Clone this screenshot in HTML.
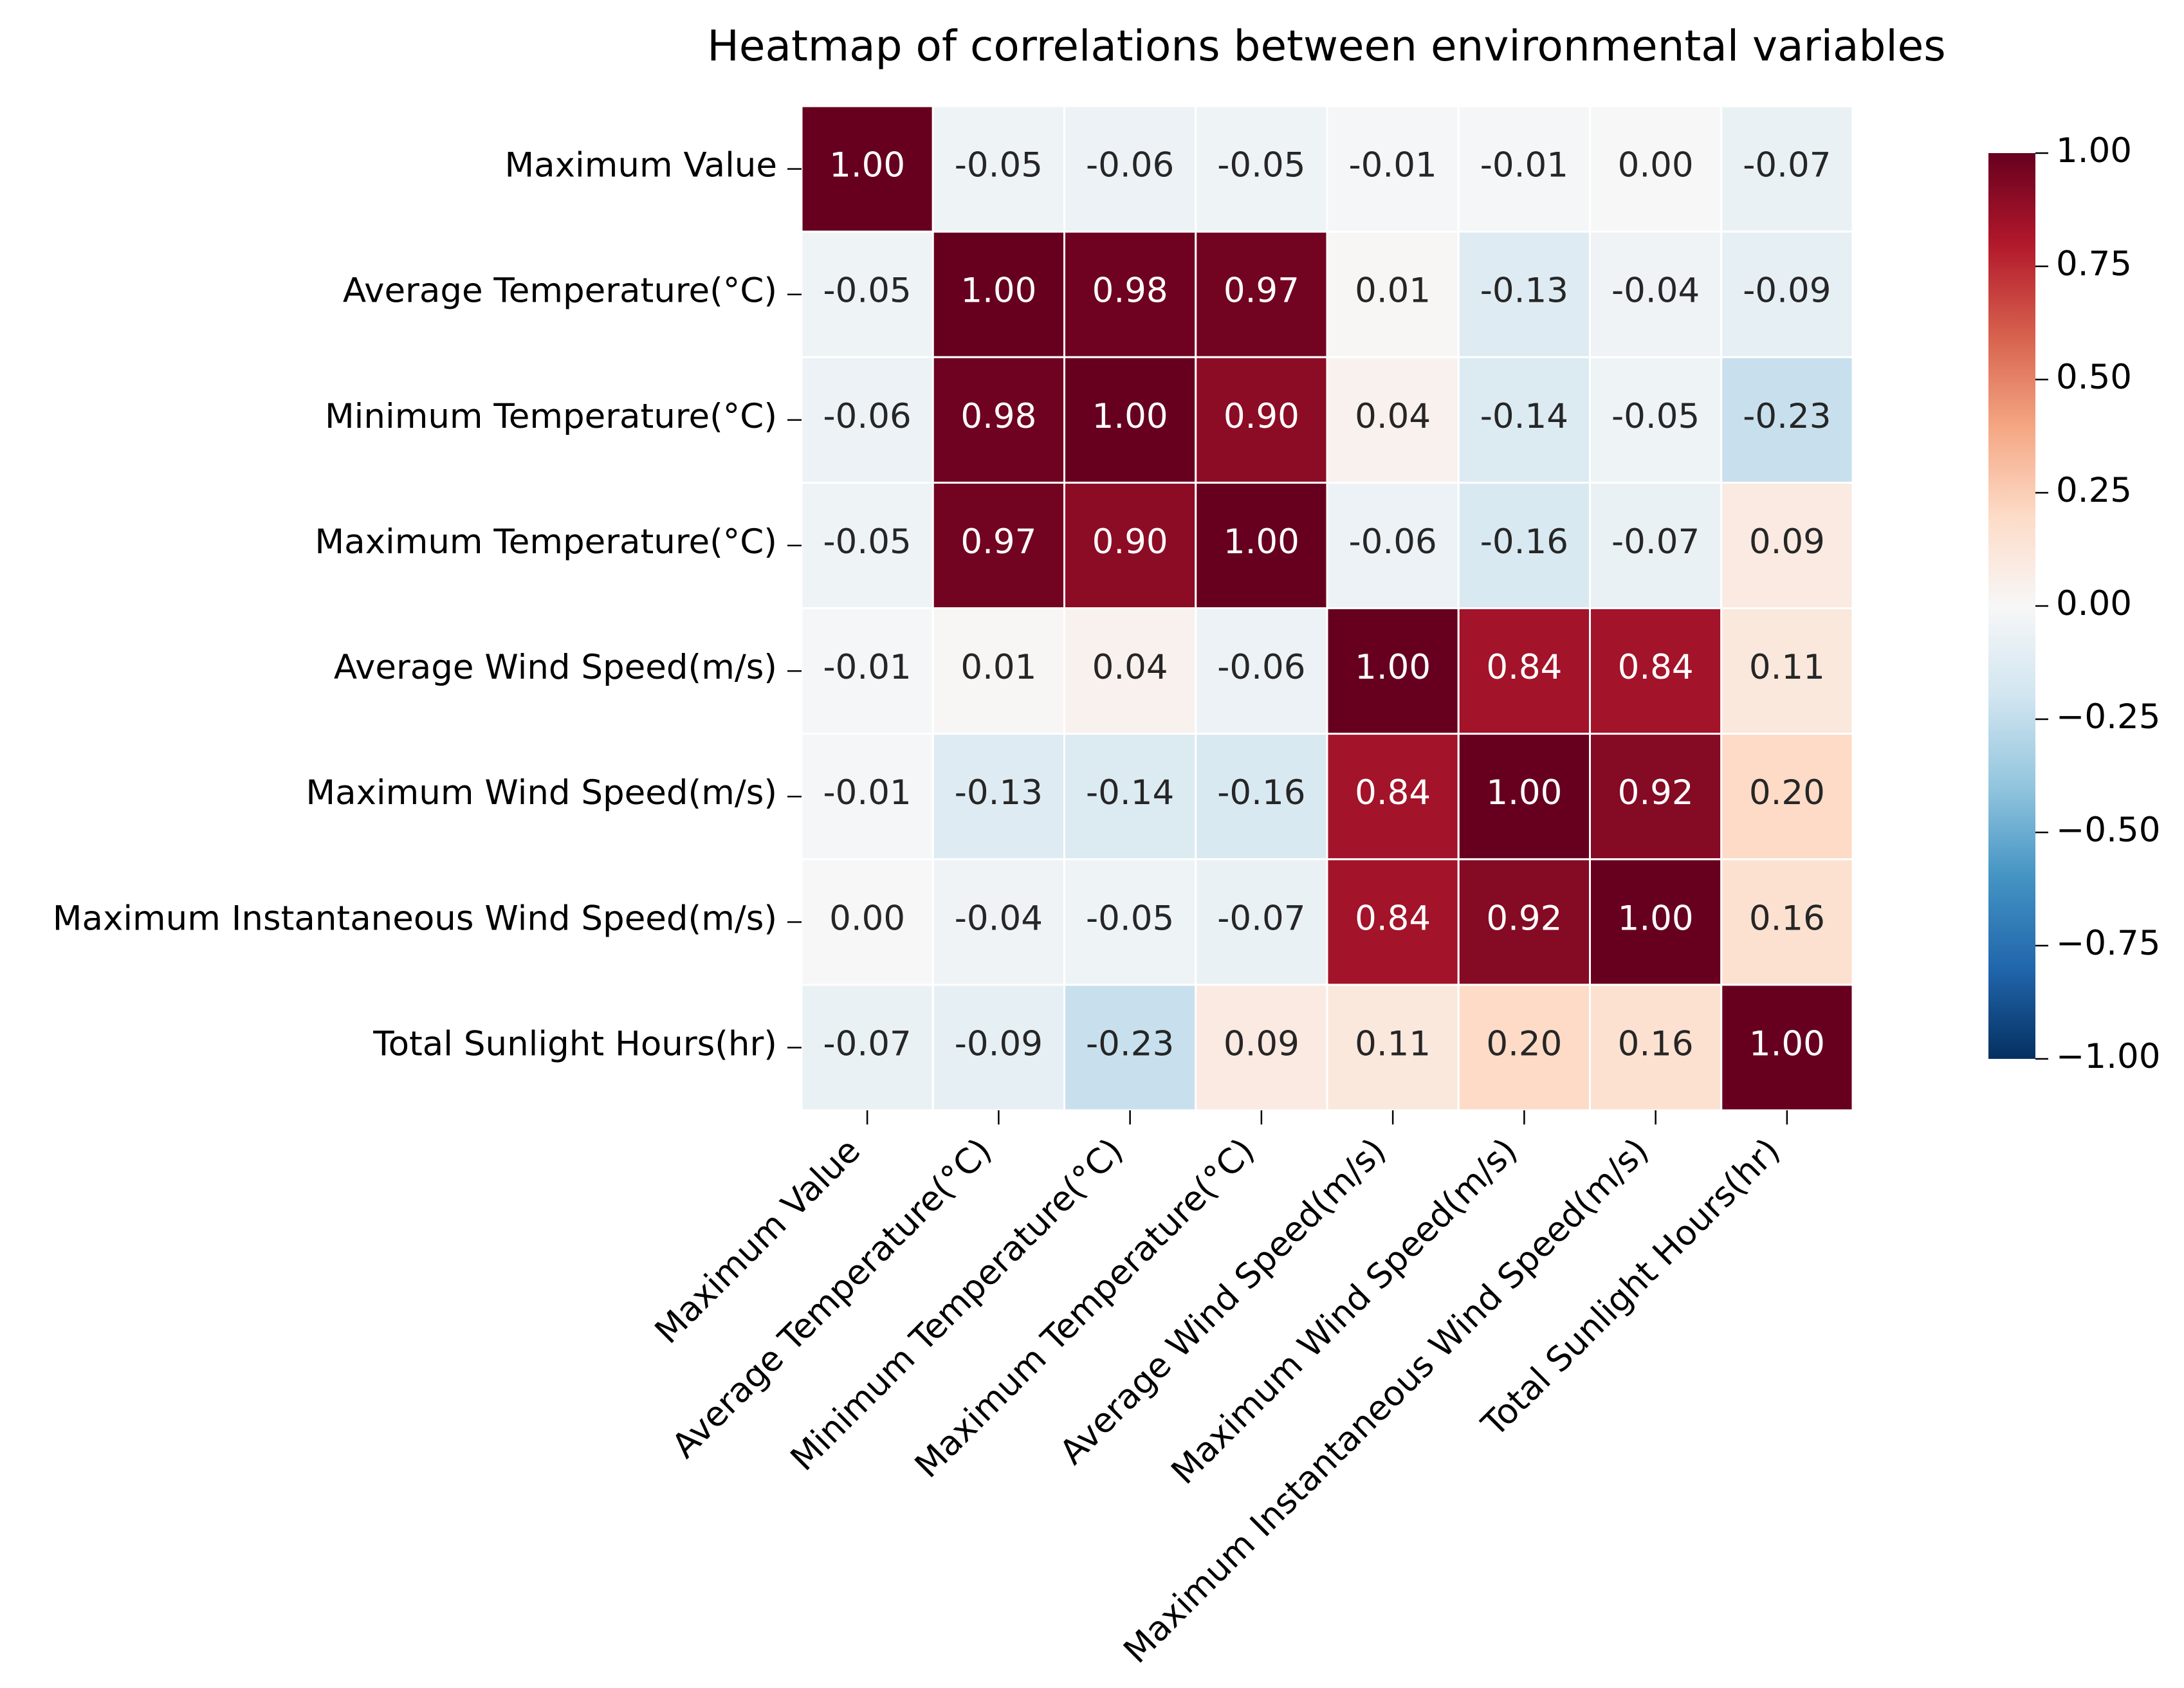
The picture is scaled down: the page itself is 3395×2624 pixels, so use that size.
<!DOCTYPE html>
<html><head><meta charset="utf-8">
<style>
html,body{margin:0;padding:0;background:#fff;}
svg{display:block;font-family:"DejaVu Sans","Liberation Sans",sans-serif;}
</style></head>
<body>
<svg id="chart" width="3395" height="2624" viewBox="0 0 3395 2624" xmlns="http://www.w3.org/2000/svg">
<defs>
<linearGradient id="cbgrad" x1="0" y1="1" x2="0" y2="0">
<stop offset="0" stop-color="#053061"/><stop offset="0.1" stop-color="#2166ac"/><stop offset="0.2" stop-color="#4393c3"/><stop offset="0.3" stop-color="#92c5de"/><stop offset="0.4" stop-color="#d1e5f0"/><stop offset="0.5" stop-color="#f7f7f7"/><stop offset="0.6" stop-color="#fddbc7"/><stop offset="0.7" stop-color="#f4a582"/><stop offset="0.8" stop-color="#d6604d"/><stop offset="0.9" stop-color="#b2182b"/><stop offset="1" stop-color="#67001f"/>
</linearGradient>
</defs>
<text x="2062" y="94" font-size="66" text-anchor="middle" fill="#000">Heatmap of correlations between environmental variables</text>
<g id="cells"></g>
<g id="yaxis"></g>
<g id="xaxis"></g>
<g id="colorbar">
<rect x="3091" y="238" width="73" height="1408" fill="url(#cbgrad)"/>
</g>
</svg>
<script>
const labels = ["Maximum Value","Average Temperature(°C)","Minimum Temperature(°C)","Maximum Temperature(°C)","Average Wind Speed(m/s)","Maximum Wind Speed(m/s)","Maximum Instantaneous Wind Speed(m/s)","Total Sunlight Hours(hr)"];
const row0 = [1.00,-0.05,-0.06,-0.05,-0.01,-0.01,0.00,-0.07];
const row1 = [-0.05,1.00,0.98,0.97,0.01,-0.13,-0.04,-0.09];
const row2 = [-0.06,0.98,1.00,0.90,0.04,-0.14,-0.05,-0.23];
const row3 = [-0.05,0.97,0.90,1.00,-0.06,-0.16,-0.07,0.09];
const row4 = [-0.01,0.01,0.04,-0.06,1.00,0.84,0.84,0.11];
const row5 = [-0.01,-0.13,-0.14,-0.16,0.84,1.00,0.92,0.20];
const row6 = [0.00,-0.04,-0.05,-0.07,0.84,0.92,1.00,0.16];
const row7 = [-0.07,-0.09,-0.23,0.09,0.11,0.20,0.16,1.00];
const matrix = [row0,row1,row2,row3,row4,row5,row6,row7];
const cbTicks = [1.00,0.75,0.50,0.25,0.00,-0.25,-0.50,-0.75,-1.00];

const NS = "http://www.w3.org/2000/svg";
const FS = 53;
const L = 1246, R = 2880, T = 165, B = 1726;
const n = labels.length;
const cw = (R - L) / n, ch = (B - T) / n;
const xPos = i => L + i * cw;
const yPos = j => T + j * ch;
const cbY = v => 1646 - (v + 1) / 2 * (1646 - 238);
const stops = ["#053061","#2166ac","#4393c3","#92c5de","#d1e5f0","#f7f7f7","#fddbc7","#f4a582","#d6604d","#b2182b","#67001f"];
function hex(h){return [1,3,5].map(k=>parseInt(h.substr(k,2),16));}
function color(v){
  let t = (v + 1) / 2 * 10; if (t < 0) t = 0; if (t > 10) t = 10;
  const i = Math.min(9, Math.floor(t)), f = t - i;
  const a = hex(stops[i]), b = hex(stops[i+1]);
  return a.map((c,k)=>Math.round(c + (b[k]-c)*f));
}
function mk(tag, attrs, parent){
  const e = document.createElementNS(NS, tag);
  for (const k in attrs) e.setAttribute(k, attrs[k]);
  parent.appendChild(e); return e;
}
const fmt = v => (v < 0 ? "-" : "") + Math.abs(v).toFixed(2);
const cells = document.getElementById("cells");
for (let j = 0; j < n; j++) {
  for (let i = 0; i < n; i++) {
    const v = matrix[j][i];
    const c = color(v);
    const r = mk("rect", {x:xPos(i), y:yPos(j), width:cw, height:ch, fill:`rgb(${c[0]},${c[1]},${c[2]})`, stroke:"#fff", "stroke-width":3}, cells);
    
    
    const lum = (0.2126*c[0] + 0.7152*c[1] + 0.0722*c[2]) / 255;
    const t = mk("text", {x:xPos(i)+cw/2, y:yPos(j)+ch/2+12, "font-size":FS, "text-anchor":"middle", fill: lum < 0.4 ? "#fff" : "#262626"}, cells);
    
    
    t.textContent = fmt(v);
  }
}
const ya = document.getElementById("yaxis");
const xa = document.getElementById("xaxis");
for (let k = 0; k < n; k++) {
  const yc = yPos(k) + ch/2;
  const tk = mk("line", {x1:L-22, x2:L, y1:yc, y2:yc, stroke:"#000", "stroke-width":2.5}, ya);
  
  
  const yl = mk("text", {x:L-38, y:yc+12, "font-size":FS, "text-anchor":"end", fill:"#000"}, ya);
  
  
  yl.textContent = labels[k];
  const xc = xPos(k) + cw/2;
  const xt = mk("line", {x1:xc, x2:xc, y1:B, y2:B+22, stroke:"#000", "stroke-width":2.5}, xa);
  
  
  const ex = xc - 8, ey = B + 66;
  const xl = mk("text", {x:ex, y:ey, "font-size":FS, "text-anchor":"end", fill:"#000", transform:`rotate(-45 ${ex} ${ey})`}, xa);
  
  
  xl.textContent = labels[k];
}
const cb = document.getElementById("colorbar");
cbTicks.forEach(v => {
  const y = cbY(v);
  const l = mk("line", {x1:3164, x2:3184, y1:y, y2:y, stroke:"#000", "stroke-width":2.5}, cb);
  
  
  const t = mk("text", {x:3196, y:y+14, "font-size":FS, fill:"#000"}, cb);
  
  
  t.textContent = (v < 0 ? "\u2212" : "") + Math.abs(v).toFixed(2);
});
</script>
</body></html>
